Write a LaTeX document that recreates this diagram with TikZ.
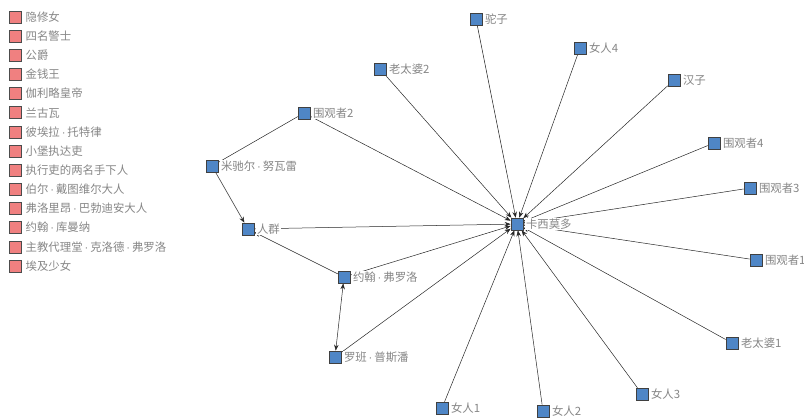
\documentclass[tikz,border=0pt]{standalone}
\usepackage{fontspec}
\setmainfont{Noto Sans CJK SC}
\newfontfamily\latinfam{Liberation Sans}
\newcommand\mdt{{\latinfam\,·\,}}
\usetikzlibrary{arrows.meta,backgrounds}
\definecolor{nodeblue}{HTML}{4F86C6}
\definecolor{legpink}{HTML}{F08080}
\definecolor{labgray}{HTML}{868686}
\tikzset{
  sq/.style={rectangle, draw=black!75, fill=nodeblue, minimum size=12pt, inner sep=0pt, line width=0.6pt},
  lab/.style={text=labgray, font=\fontsize{11.4}{12}\selectfont, inner sep=1pt, fill=white},
  legsq/.style={rectangle, draw=black!70, fill=legpink, minimum size=12pt, inner sep=0pt, line width=0.6pt},
  legtxt/.style={text=labgray, font=\fontsize{11.4}{12}\selectfont, inner sep=0pt, anchor=west},
  edgeline/.style={draw=black!85, line width=0.5pt},
  arr/.style={edgeline, -{Stealth[length=6pt,width=4.5pt]}},
  biarr/.style={edgeline, {Stealth[length=6pt,width=4.5pt]}-{Stealth[length=6pt,width=4.5pt]}},
  every label/.style={lab},
  label distance=1.5pt
}
\begin{document}
\begin{tikzpicture}[x=1pt,y=-1pt]
\useasboundingbox (0,0) rectangle (804,418);
% legend
\foreach \t [count=\i] in {隐修女,四名警士,公爵,金钱王,伽利略皇帝,兰古瓦,彼埃拉\mdt 托特律,小堡执达吏,执行吏的两名手下人,伯尔\mdt 戴图维尔大人,弗洛里昂\mdt 巴勃迪安大人,约翰\mdt 库曼纳,主教代理堂\mdt 克洛德\mdt 弗罗洛,埃及少女}{
  \node[legsq] (leg\i) at (15,{17+(\i-1)*19.15}) {};
  \node[legtxt] (legt\i) at (25.5,{17+(\i-1)*19.15}) {\t};
}
% nodes
\node[sq,label=right:卡西莫多] (k) at (517,224) {};
\node[sq,label=right:驼子] (tuozi) at (476,19) {};
\node[sq,label=right:女人4] (n4) at (580,48) {};
\node[sq,label=right:老太婆2] (ltp2) at (380,69) {};
\node[sq,label=right:汉子] (hanzi) at (674,80) {};
\node[sq,label=right:围观者2] (w2) at (304,113) {};
\node[sq,label=right:围观者4] (w4) at (714,143) {};
\node[sq,label=right:米驰尔\mdt 努瓦雷] (mi) at (212,166) {};
\node[sq,label=right:围观者3] (w3) at (750,188) {};
\node[sq,label=right:人群] (rq) at (248,229) {};
\node[sq,label=right:围观者1] (w1) at (756,260) {};
\node[sq,label=right:约翰\mdt 弗罗洛] (yh) at (344,277) {};
\node[sq,label=right:老太婆1] (ltp1) at (732,343) {};
\node[sq,label=right:罗班\mdt 普斯潘] (lb) at (335,357) {};
\node[sq,label=right:女人1] (n1) at (442,408) {};
\node[sq,label=right:女人2] (n2) at (543,411) {};
\node[sq,label=right:女人3] (n3) at (642,394) {};
% edges
\begin{scope}[on background layer]
\foreach \s in {tuozi,n4,ltp2,hanzi,w2,w4,w3,rq,w1,yh,ltp1,lb,n1,n2,n3}{
  \draw[arr] (\s) -- (k);
}
\draw[edgeline] (w2) -- (mi);
\draw[arr] (mi) -- (rq);
\draw[arr] (yh) -- (rq);
\draw[biarr] (yh) -- (lb);
\end{scope}
\end{tikzpicture}
\end{document}
